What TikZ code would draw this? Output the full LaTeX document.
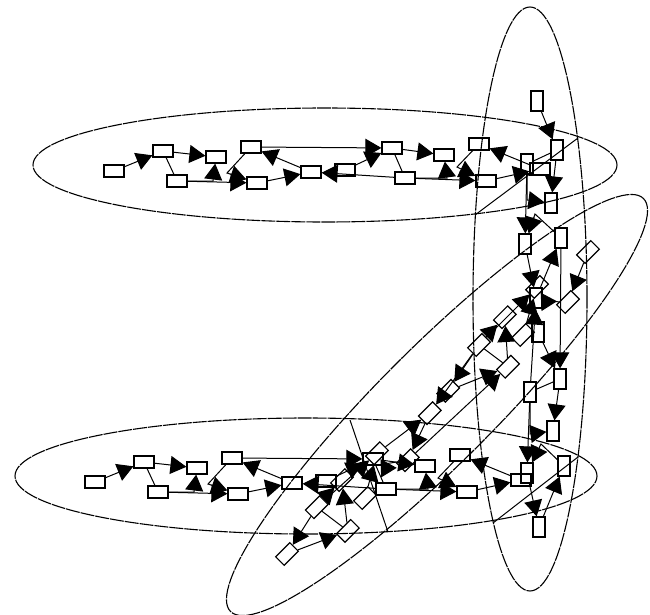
\documentclass[tikz,border=0pt]{standalone}
\usetikzlibrary{arrows.meta}
\tikzset{
	box/.style={draw, line width=1.2pt, inner sep=0pt, minimum width=20pt, minimum height=12pt},
	flow/.style={line width=1pt, -{Triangle[length=16pt,width=18pt]}},
	link/.style={line width=1pt},
	orbit/.style={line width=1.1pt, dash pattern=on 14pt off 1pt},
	seam/.style={line width=1pt}
}
\newcommand{\flatnodes}{1/0/0, 2/49/-20, 3/63/10, 4/102/-14, 5/137/-24, 6/143/12, 7/197/1,
	8/231/-1, 9/278/-23, 10/291/7, 11/330/-16, 12/372/10, 13/365/-27, 14/426/-2}
\newcommand{\slantnodes}{1/0/0, 2/48.5/-28, 3/59/12.6, 4/96.6/14, 5/144/-20, 6/138/8, 7/200/-1.5,
	8/230/1.5, 9/279/-25, 10/288.5/12.6, 11/327/14, 12/370.6/12.6, 13/368.6/-21.5, 14/426.7/0.7}
\newcommand{\flatbends}{A/99/10, B/113/2, C/333/7, D/343/-4}
\newcommand{\slantbends}{A/78/14, B/130/-5, C/308/14, D/360/-5}
% the same graph, laid out once per plane
\newcommand{\graphplane}[5]{
	\begin{scope}[#3]
		\foreach \num/\posx/\posy in #4
			\node[box, rotate=#2] (#1\num) at (\posx,\posy) {};
		\foreach \tag/\posx/\posy in #5
			\coordinate (#1bend\tag) at (\posx,\posy);
		\foreach \src/\dst in {1/2, 2/4, 3/6, 6/7, 7/5, 10/7, 5/9, 8/9, 9/11, 10/12, 14/13}
			\draw[flow] (#1\src) -- (#1\dst);
		\draw[link] (#12) -- (#13);
		\draw[link] (#19) -- (#110);
		\draw[flow] (#13) -- (#1bendA) -- (#14);
		\draw[flow] (#15) -- (#1bendB) -- (#16);
		\draw[flow] (#110) -- (#1bendC) -- (#111);
		\draw[flow] (#113) -- (#1bendD) -- (#112);
	\end{scope}
}
\begin{document}
\begin{tikzpicture}[x=1pt,y=-1pt]
	\useasboundingbox (0,0) rectangle (650,615);

	\draw[orbit] (325,165) ellipse [x radius=292pt, y radius=57pt];
	\draw[orbit] (306,476) ellipse [x radius=291pt, y radius=58pt];
	\draw[orbit] (530,299) ellipse [x radius=57pt, y radius=292pt];
	\draw[orbit, rotate around={45:(437,405)}] (437,405) ellipse [x radius=292pt, y radius=58pt];

	\coordinate (topA) at (578,138);
	\coordinate (topB) at (475,215);
	\coordinate (lowA) at (578,457);
	\coordinate (lowB) at (493,523);
	\coordinate (lowC) at (350,420);
	\coordinate (lowD) at (388,532);
	\draw[seam] (topA) -- (topB);
	\draw[seam] (lowA) -- (lowB);
	\draw[seam] (lowC) -- (lowD);

	\graphplane{top}{0}{shift={(114,171)}, x={(1pt,0pt)}, y={(0pt,-1pt)}}{\flatnodes}{\flatbends}
	\graphplane{low}{0}{shift={(95,482)}, x={(1pt,0pt)}, y={(0pt,-1pt)}}{\flatnodes}{\flatbends}
	\graphplane{wall}{-90}{shift={(537,101)}, x={(0pt,-1pt)}, y={(-1pt,0pt)}}{\flatnodes}{\flatbends}
	\graphplane{slant}{45}{shift={(287,554)}, x={(0.707pt,0.707pt)}, y={(-0.95pt,0.4pt)}}{\slantnodes}{\slantbends}

	\draw[flow] (top12) -- (top14);
	\draw[flow] (low12) -- (low14);
	\draw[flow] (wall12) -- (wall14);

	% the slanted plane has a few more
	\node[box, rotate=45] (slantE) at (365,498) {};
	\node[box, rotate=45] (slantM) at (523,335) {};
	\draw[flow] (slantE) -- (slant6);
	\draw[flow] (slantM) -- (slant12);
	\draw[flow] (slant3) -- (slant1);
	\draw[flow] (slant10) -- (slant8);
\end{tikzpicture}
\end{document}
